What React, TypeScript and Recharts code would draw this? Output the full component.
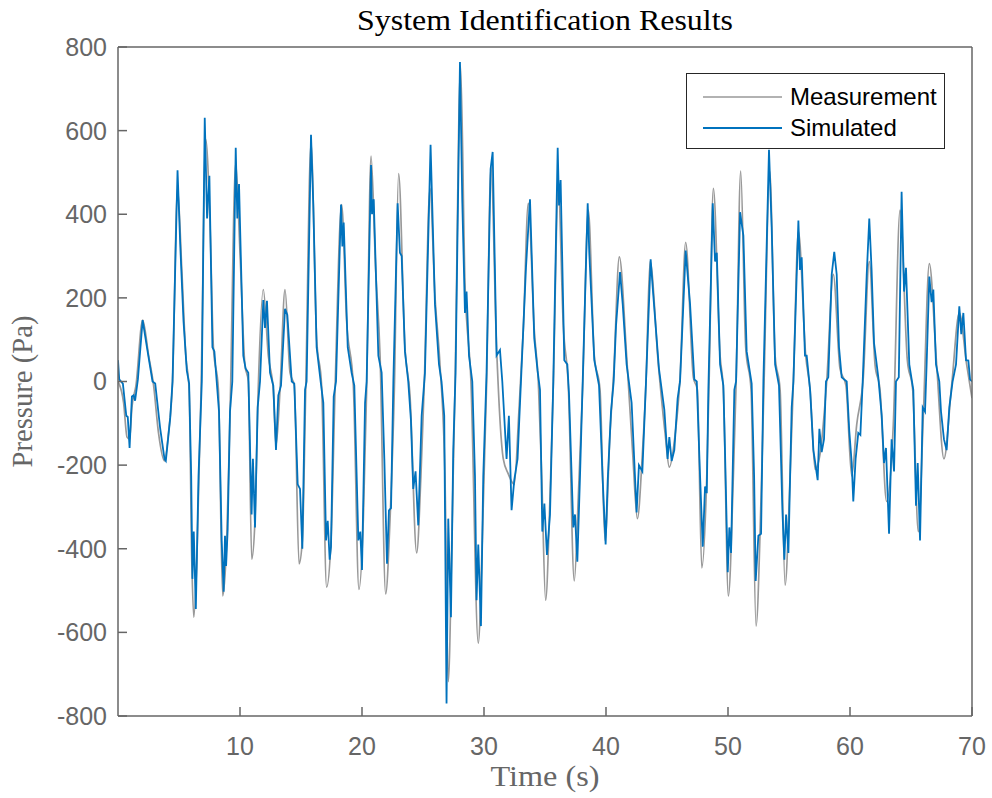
import React from 'react';
import { LineChart, Line, XAxis, YAxis, Legend } from 'recharts';

// time (s) / pressure (Pa)
const measTime = [
  0, 0.46, 0.74, 0.95, 1.14, 1.47, 2.02, 2.51, 2.92, 3.32,
  3.81, 4.14, 4.47, 4.88, 5.23, 5.56, 5.83, 6.05, 6.21, 6.46,
  6.81, 7.19, 7.55, 7.82, 8.23, 8.58, 8.91, 9.18, 9.65, 10.0,
  10.4, 10.68, 10.96, 11.23, 11.45, 11.91, 12.32, 12.73, 12.95, 13.28,
  13.69, 14.1, 14.45, 14.84, 15.11, 15.38, 15.82, 16.28, 16.69, 17.1,
  17.46, 17.79, 18.33, 18.74, 19.29, 19.75, 20.11, 20.38, 20.74, 21.12,
  21.48, 21.94, 22.3, 22.65, 23.0, 23.52, 23.93, 24.48, 24.83, 25.1,
  25.57, 25.98, 26.39, 26.8, 27.07, 27.4, 27.62, 28.08, 28.44, 28.93,
  29.53, 29.86, 30.21, 30.57, 31.03, 31.58, 31.99, 32.48, 32.86, 33.22,
  33.63, 34.12, 34.45, 34.73, 35.05, 35.41, 35.68, 36.09, 36.5, 36.91,
  37.4, 37.73, 38.09, 38.55, 39.04, 39.51, 39.92, 40.33, 40.63, 41.09,
  41.69, 42.19, 42.57, 42.98, 43.28, 43.61, 44.29, 44.84, 45.19, 45.6,
  46.07, 46.53, 47.16, 47.49, 47.85, 48.26, 48.45, 48.8, 49.35, 49.62,
  50.03, 50.44, 50.66, 51.04, 51.45, 51.89, 52.3, 52.71, 52.95, 53.42,
  53.86, 54.27, 54.68, 55.09, 55.36, 55.77, 56.37, 56.73, 57.14, 57.54,
  58.09, 58.63, 59.18, 59.67, 60.14, 60.55, 61.09, 61.58, 62.05, 62.46,
  63.0, 63.55, 64.1, 64.7, 65.14, 65.6, 66.01, 66.5, 67.1, 67.7,
  68.33, 68.96, 69.56, 70,
];
const measPressure = [
  0, -51, -133, -138, -62, -10, 147, 62, -10, -123,
  -190, -123, 0, 462, 267, 62, -20, -431, -564, -431,
  -20, 580, 369, 82, -20, -513, -380, -82, 523, 308,
  41, 0, -425, -330, -62, 220, 62, -20, -154, -20,
  220, 21, -10, -436, -380, -31, 570, 103, -10, -492,
  -380, -20, 423, 144, -10, -497, -328, -20, 539, 267,
  62, -508, -328, -20, 497, 82, -31, -410, -226, -10,
  462, 205, 41, -226, -718, -328, -20, 755, 236, 0,
  -626, -380, -10, 513, 82, -185, -221, -246, -72, 123,
  426, 123, 0, -226, -523, -277, -10, 462, 133, -10,
  -477, -277, -10, 410, 62, -20, -380, -123, 20, 298,
  62, -174, -328, -174, 0, 287, 41, -123, -205, -144,
  10, 333, 10, -20, -446, -226, 0, 462, 62, -20,
  -513, -226, -10, 503, 82, -20, -585, -277, -10, 503,
  62, -20, -487, -226, 0, 359, 62, -20, -210, -174,
  0, 256, 31, -10, -226, -103, 10, 287, 41, -20,
  -287, -103, 410, 51, -20, -359, -82, 282, 41, -185,
  -10, 164, 41, -40,
];

const simTime = [
  0, 0.1, 0.4, 0.68, 0.8, 0.95, 1.14, 1.28, 1.4, 1.63,
  2.02, 2.37, 2.83, 3.05, 3.46, 3.81, 3.92, 4.28, 4.47, 4.88,
  5.1, 5.37, 5.64, 5.83, 6.0, 6.1, 6.21, 6.38, 6.6, 6.87,
  7.11, 7.3, 7.49, 7.74, 7.9, 8.09, 8.28, 8.5, 8.66, 8.77,
  8.86, 8.99, 9.18, 9.37, 9.65, 9.78, 9.92, 10.27, 10.46, 10.68,
  10.95, 11.06, 11.23, 11.45, 11.64, 11.91, 12.05, 12.21, 12.46, 12.73,
  12.95, 13.14, 13.36, 13.69, 13.88, 14.24, 14.45, 14.73, 14.92, 15.11,
  15.33, 15.46, 15.82, 16.01, 16.28, 16.61, 16.83, 17.05, 17.19, 17.35,
  17.46, 17.68, 17.87, 18.28, 18.39, 18.5, 18.83, 19.15, 19.37, 19.7,
  19.86, 20.0, 20.25, 20.38, 20.74, 20.82, 20.96, 21.34, 21.61, 21.83,
  22.05, 22.21, 22.38, 22.57, 22.92, 23.11, 23.25, 23.52, 23.79, 24.01,
  24.2, 24.39, 24.61, 24.89, 25.16, 25.62, 25.98, 26.31, 26.52, 26.74,
  26.93, 27.07, 27.29, 27.48, 27.67, 28.03, 28.22, 28.44, 28.57, 28.77,
  29.04, 29.26, 29.39, 29.53, 29.75, 29.94, 30.21, 30.54, 30.71, 31.03,
  31.31, 31.5, 31.85, 32.04, 32.26, 32.48, 32.75, 33.03, 33.44, 33.77,
  34.12, 34.39, 34.59, 34.78, 34.95, 35.16, 35.41, 35.68, 36.04, 36.15,
  36.28, 36.58, 36.83, 36.97, 37.32, 37.46, 37.65, 37.87, 38.09, 38.5,
  38.63, 39.04, 39.43, 39.73, 39.97, 40.14, 40.41, 40.63, 40.82, 41.15,
  41.37, 41.69, 42.1, 42.51, 42.7, 42.98, 43.28, 43.66, 43.88, 44.34,
  44.78, 45.05, 45.19, 45.38, 45.6, 45.87, 46.07, 46.53, 46.89, 47.24,
  47.44, 47.71, 47.93, 48.12, 48.26, 48.39, 48.75, 48.94, 49.08, 49.35,
  49.62, 49.76, 49.98, 50.11, 50.25, 50.52, 50.66, 50.99, 51.26, 51.53,
  51.94, 52.14, 52.27, 52.49, 52.71, 52.9, 53.36, 53.58, 53.86, 54.18,
  54.46, 54.62, 54.76, 54.95, 55.22, 55.36, 55.77, 55.9, 56.04, 56.31,
  56.45, 56.73, 57.0, 57.35, 57.49, 57.68, 57.87, 58.03, 58.22, 58.5,
  58.71, 58.91, 59.1, 59.32, 59.73, 59.94, 60.14, 60.27, 60.46, 60.68,
  60.85, 61.04, 61.37, 61.58, 61.77, 61.97, 62.32, 62.6, 62.79, 62.95,
  63.2, 63.41, 63.61, 63.77, 64.0, 64.23, 64.43, 64.59, 64.86, 65.19,
  65.41, 65.55, 65.74, 65.96, 66.15, 66.28, 66.5, 66.69, 66.83, 67.05,
  67.32, 67.46, 67.7, 67.92, 68.14, 68.41, 68.69, 68.96, 69.12, 69.29,
  69.51, 69.7, 69.84, 70,
];
const simPressure = [
  51, 5, -5, -82, -85, -159, -36, -33, -46, 5,
  147, 82, 0, -5, -113, -185, -190, -87, 0, 505,
  328, 144, 26, -5, -226, -472, -359, -544, -226, 0,
  631, 390, 492, 82, 72, 0, -72, -380, -503, -369,
  -441, -354, -72, 0, 559, 390, 472, 62, 31, 21,
  -318, -185, -349, -62, 0, 195, 128, 193, 21, -10,
  -164, -33, -10, 174, 159, 0, -5, -246, -257, -400,
  -20, 0, 590, 421, 82, 0, -51, -380, -333, -426,
  -395, -36, 0, 423, 323, 380, 82, 21, -10, -380,
  -359, -451, -51, 0, 518, 400, 436, 62, 21, -185,
  -436, -308, -303, 0, 426, 308, 300, 72, 0, -92,
  -257, -215, -344, -82, 21, 566, 185, 41, 0, -82,
  -770, -328, -564, -164, 21, 764, 431, 164, 215, 62,
  0, -226, -523, -390, -585, -226, 21, 508, 549, 62,
  75, 0, -185, -82, -308, -236, -185, 0, 272, 436,
  103, 26, -20, -359, -292, -415, -318, 0, 559, 421,
  482, 51, 41, -31, -349, -318, -431, -226, 0, 426,
  308, 51, -10, -236, -390, -236, -72, 0, 133, 262,
  185, 41, -51, -313, -200, -215, 0, 292, 205, 31,
  -67, -185, -133, -190, -164, -41, 0, 313, 185, 5,
  0, -226, -395, -251, -267, -20, 426, 287, 308, 41,
  -10, -174, -456, -349, -410, -20, 0, 405, 349, 72,
  -5, -226, -477, -369, -364, 0, 554, 369, 41, -10,
  -308, -426, -318, -410, -62, 0, 385, 267, 297, 62,
  62, -20, -164, -236, -113, -169, -138, 0, 10, 256,
  310, 256, 82, 10, 0, -118, -195, -287, -185, -123,
  -128, 0, 256, 390, 267, 92, 10, -82, -195, -159,
  -364, -138, -215, 0, 10, 454, 215, 272, 41, -20,
  -297, -195, -380, -62, -72, 41, 251, 190, 220, 41,
  0, -72, -138, -164, -62, 0, 41, 180, 113, 164,
  51, 50, 5, 0,
];

const timeTicks = [10, 20, 30, 40, 50, 60, 70];
const pressureTicks = [-800, -600, -400, -200, 0, 200, 400, 600, 800];

const measured = measTime.map((t, i) => ({ t, p: measPressure[i] }));
const simulated = simTime.map((t, i) => ({ t, p: simPressure[i] }));

const AXIS = '#666666';
const sans = '"Liberation Sans", Arial, Helvetica, sans-serif';
const serif = '"Liberation Serif", "Times New Roman", serif';
const tickFont = { fill: AXIS, fontSize: 25, fontFamily: sans };
const axisStroke = { stroke: AXIS, strokeWidth: 1.5 };

const Title = (props: any) => {
  const vb = props.viewBox || { x: 118, y: 47, width: 854 };
  return (
    <text x={vb.x + vb.width / 2} y={vb.y - 16} textAnchor="middle" fontFamily={serif}
      fontSize={29} fill="#000" textLength={376} lengthAdjust="spacingAndGlyphs">
      System Identification Results
    </text>
  );
};

const TimeLabel = (props: any) => {
  const vb = props.viewBox || { x: 118, y: 716, width: 854 };
  return (
    <text x={vb.x + vb.width / 2} y={vb.y + 70} textAnchor="middle" fontFamily={serif}
      fontSize={29} fill={AXIS} textLength={109} lengthAdjust="spacingAndGlyphs">
      Time (s)
    </text>
  );
};

const PressureLabel = (props: any) => {
  const vb = props.viewBox || { x: 0, y: 47, width: 118, height: 669 };
  const cx = vb.x + 32;
  const cy = vb.y + vb.height / 2 + 10;
  return (
    <text x={cx} y={cy} transform={`rotate(-90 ${cx} ${cy})`} textAnchor="middle"
      fontFamily={serif} fontSize={29} fill={AXIS} textLength={152} lengthAdjust="spacingAndGlyphs">
      Pressure (Pa)
    </text>
  );
};

const LegendBox = (props: any) => {
  const items = props.payload || [];
  return (
    <div style={{
      boxSizing: 'border-box', width: 259, height: 76, border: '1.5px solid #262626',
      background: '#fff', fontFamily: sans, fontSize: 24, color: '#000', position: 'relative',
    }}>
      {items.map((e: any, i: number) => (
        <div key={e.value} style={{
          position: 'absolute', left: 0, top: 9 + i * 31, height: 28,
          display: 'flex', alignItems: 'center',
        }}>
          <svg width={96} height={28}>
            <line x1={16} x2={95} y1={14} y2={14} stroke={e.color} strokeWidth={i ? 1.8 : 1.5} />
          </svg>
          <span style={{ marginLeft: 7, lineHeight: '28px' }}>{e.value}</span>
        </div>
      ))}
    </div>
  );
};

export default function App() {
  return (
    <div style={{ position: 'absolute', left: 0, top: 0, width: 992, height: 798, background: '#fff' }}>
      <LineChart width={992} height={798} margin={{ top: 46, right: 19, bottom: 0, left: 0 }}>
        <XAxis dataKey="t" type="number" domain={[0, 70]} ticks={timeTicks} allowDataOverflow
          height={82} tickSize={-9} tickMargin={30} tick={tickFont}
          axisLine={axisStroke} tickLine={axisStroke} label={(p: any) => <TimeLabel {...p} />} />
        <XAxis xAxisId="top" orientation="top" dataKey="t" type="number" domain={[0, 70]}
          ticks={timeTicks} allowDataOverflow height={1} tickSize={-9} tick={false}
          axisLine={axisStroke} tickLine={axisStroke} label={(p: any) => <Title {...p} />} />
        <YAxis type="number" domain={[-800, 800]} ticks={pressureTicks} allowDataOverflow
          width={118} tickSize={-9} tickMargin={20} tick={tickFont}
          axisLine={axisStroke} tickLine={axisStroke} label={(p: any) => <PressureLabel {...p} />} />
        <YAxis yAxisId="right" orientation="right" type="number" domain={[-800, 800]}
          ticks={pressureTicks} allowDataOverflow width={1} tickSize={-9} tick={false}
          axisLine={axisStroke} tickLine={axisStroke} />
        <Legend layout="vertical" align="center" verticalAlign="middle"
          wrapperStyle={{ left: 686, top: 73, width: 259, height: 76 }}
          content={(p: any) => <LegendBox {...p} />} />
        <Line data={measured} dataKey="p" name="Measurement" type="monotone" stroke="#999999"
          strokeWidth={1.7} dot={false} activeDot={false} isAnimationActive={false} />
        <Line data={simulated} dataKey="p" name="Simulated" type="linear" stroke="#0072BD"
          strokeWidth={1.8} dot={false} activeDot={false} isAnimationActive={false} />
      </LineChart>
    </div>
  );
}
